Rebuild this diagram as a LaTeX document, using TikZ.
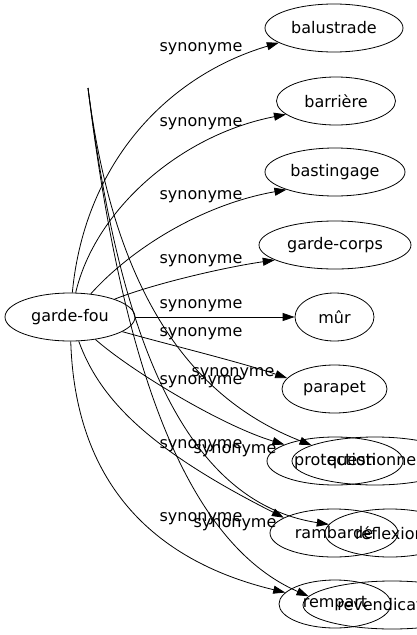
\documentclass[tikz,border=0pt]{standalone}
\usepackage{fontspec}
\setmainfont{DejaVu Sans}
\usetikzlibrary{arrows.meta,shapes.geometric}

\begin{document}
\begin{tikzpicture}[
  x=1pt, y=-1pt,
  font=\fontsize{16}{19}\selectfont, >={Triangle[length=12pt,width=8pt]},
  word/.style={draw, ellipse, inner sep=0pt, minimum height=48pt, line width=0.8pt},
  syn/.style={inner sep=0pt},
  arr/.style={->, line width=0.8pt},
]
\useasboundingbox (0,0) rectangle (416,635);

\node[word, minimum width=130pt] (gf)  at (70,317)  {garde-fou};
\node[word, minimum width=138pt] (bal) at (334,28)  {balustrade};
\node[word, minimum width=119pt] (bar) at (336,101) {barrière};
\node[word, minimum width=140pt] (bas) at (335,172) {bastingage};
\node[word, minimum width=152pt] (gc)  at (335,245) {garde-corps};
\node[word, minimum width=79pt]  (mur) at (334.5,317) {mûr};
\node[word, minimum width=105pt] (par) at (334.5,389) {parapet};
\node[word, minimum width=136pt] (pro) at (335,461) {protection};
\node[word, minimum width=166pt] (que) at (375,461) {questionner};
\node[word, minimum width=128pt] (ram) at (334,533) {rambarde};
\node[word, minimum width=130pt] (ref) at (390,533) {réflexion};
\node[word, minimum width=112pt] (rem) at (335,604) {rempart};
\node[word, minimum width=178pt] (rev) at (392,605) {revendication};
\coordinate (orig) at (88,88);

\draw[arr] (gf) .. controls (85,160) and (170,75) .. (bal.195);
\draw[arr] (gf) .. controls (95,210) and (180,135) .. (bar.195);
\draw[arr] (gf) .. controls (130,250) and (200,205) .. (bas.200);
\draw[arr] (gf) .. controls (150,285) and (220,268) .. (gc.194);
\draw[arr] (gf) -- (mur);
\draw[arr] (gf) .. controls (170,345) and (240,362) .. (par.167);
\draw[arr] (gf) .. controls (130,370) and (220,425) .. (pro.162);
\draw[arr] (gf) .. controls (100,400) and (150,450) .. (ram.163);
\draw[arr] (gf) .. controls (75,480) and (150,560) .. (rem.167);
\draw[arr] (orig) .. controls (110,260) and (170,390) .. (que.166);
\draw[arr] (orig) .. controls (115,300) and (170,500) .. (ref.172);
\draw[arr] (orig) .. controls (120,350) and (180,540) .. (rev.174);

\node[syn] (s1)  at (201,49)  {synonyme};
\node[syn] (s2)  at (201,124) {synonyme};
\node[syn] (s3)  at (201,197) {synonyme};
\node[syn] (s4)  at (201,261) {synonyme};
\node[syn] (s5)  at (201,306) {synonyme};
\node[syn] (s6)  at (201,334) {synonyme};
\node[syn] (s7)  at (233,374) {synonyme};
\node[syn] (s8)  at (201,382) {synonyme};
\node[syn] (s9)  at (201,446) {synonyme};
\node[syn] (s10) at (235,451) {synonyme};
\node[syn] (s11) at (201,519) {synonyme};
\node[syn] (s12) at (235,525) {synonyme};
\end{tikzpicture}
\end{document}
